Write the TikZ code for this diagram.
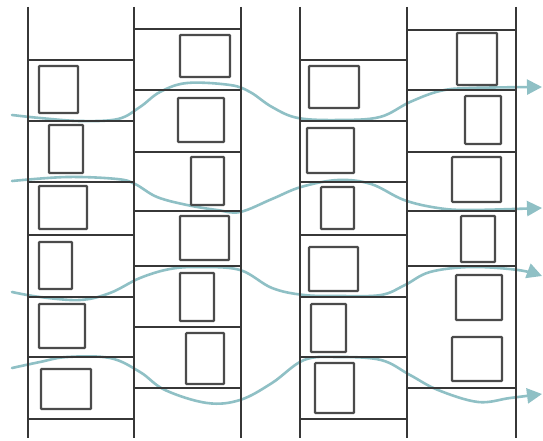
\documentclass[tikz,border=0pt]{standalone}
\usetikzlibrary{arrows.meta}
\definecolor{flow}{RGB}{143,192,197}
\definecolor{wall}{RGB}{55,55,55}
\definecolor{win}{RGB}{75,75,75}
\tikzset{
  wallline/.style={draw=wall, line width=1.4pt},
  winbox/.style={draw=win, line width=2.2pt, rounded corners=0.8pt},
  flowline/.style={draw=flow, line width=2.6pt, line cap=round, -{Triangle[length=15pt,width=15pt]}},
}
\begin{document}
\begin{tikzpicture}[x=1pt,y=-1pt]
\useasboundingbox (0,0) rectangle (543,441);
\fill[white] (0,0) rectangle (543,441);
% flows
\draw[flowline] plot[smooth,tension=0.6] coordinates {(12,115) (40,118) (80,121) (118,119) (140,107) (160,92) (187,83) (230,85) (250,92) (272,107) (298,118) (340,120) (380,117) (410,102) (440,91) (470,88) (542,87)};
\draw[flowline] plot[smooth,tension=0.6] coordinates {(12,181) (67,177) (117,179) (135,184) (157,197) (187,205) (217,210) (240,212) (272,199) (301,187) (338,180) (371,184) (404,200) (438,208) (471,210) (542,208)};
\draw[flowline] plot[smooth,tension=0.6] coordinates {(12,292) (40,297) (80,300) (110,293) (140,278) (170,269) (200,267) (240,270) (272,288) (304,295) (340,296) (381,295) (405,285) (430,272) (471,267) (518,270) (542,276)};
\draw[flowline] plot[smooth,tension=0.6] coordinates {(12,368) (40,362) (67,357) (110,358) (140,372) (165,390) (207,403) (240,400) (272,383) (304,360) (338,357) (381,360) (410,375) (438,390) (478,402) (510,398) (542,394)};
% vertical walls
\foreach \x in {28,134,241,300,407,516} \draw[wallline] (\x,7) -- (\x,438);
% floors
\foreach \y in {60,121,182,235,297,357,419} {\draw[wallline] (28,\y) -- (134,\y); \draw[wallline] (300,\y) -- (407,\y);}
\foreach \y in {29,90,152,211,266,327,388} \draw[wallline] (134,\y) -- (241,\y);
\foreach \y in {30,90,152,211,266,388} \draw[wallline] (407,\y) -- (516,\y);
% windows column 1
\draw[winbox] (39,66) rectangle (78,113);
\draw[winbox] (49,125) rectangle (83,173);
\draw[winbox] (39,186) rectangle (87,229);
\draw[winbox] (39,242) rectangle (72,289);
\draw[winbox] (39,304) rectangle (85,348);
\draw[winbox] (41,369) rectangle (91,409);
% column 2
\draw[winbox] (180,35) rectangle (230,77);
\draw[winbox] (178,98) rectangle (224,142);
\draw[winbox] (191,157) rectangle (224,205);
\draw[winbox] (180,216) rectangle (229,260);
\draw[winbox] (180,273) rectangle (214,321);
\draw[winbox] (186,333) rectangle (224,384);
% column 3
\draw[winbox] (309,66) rectangle (359,108);
\draw[winbox] (307,128) rectangle (354,173);
\draw[winbox] (321,187) rectangle (354,229);
\draw[winbox] (309,247) rectangle (358,291);
\draw[winbox] (311,304) rectangle (346,352);
\draw[winbox] (315,363) rectangle (354,413);
% column 4
\draw[winbox] (457,33) rectangle (497,85);
\draw[winbox] (465,96) rectangle (501,144);
\draw[winbox] (452,157) rectangle (501,202);
\draw[winbox] (461,216) rectangle (495,262);
\draw[winbox] (456,275) rectangle (502,320);
\draw[winbox] (452,337) rectangle (502,381);
\end{tikzpicture}
\end{document}
